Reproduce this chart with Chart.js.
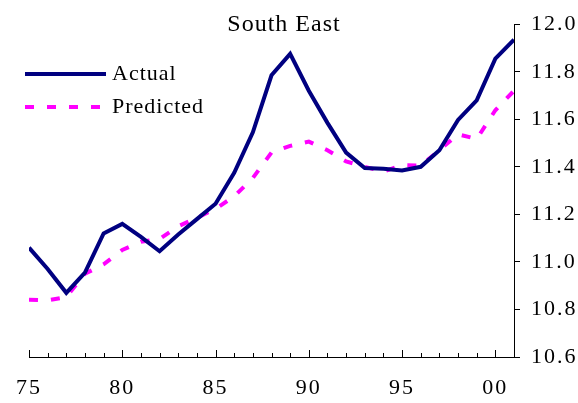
<!DOCTYPE html>
<html>
<head>
<meta charset="utf-8">
<script src="https://cdn.jsdelivr.net/npm/chart.js@4/dist/chart.umd.min.js"></script>
<style>
    html, body { margin: 0; padding: 0; background: #ffffff; }
    #wrap { width: 578px; height: 403px; }
</style>
</head>
<body>
<div id="wrap"><canvas id="chart"></canvas></div>
<script>
// Data
const years = [1975, 1976, 1977, 1978, 1979, 1980, 1981, 1982, 1983, 1984, 1985, 1986, 1987, 1988,
               1989, 1990, 1991, 1992, 1993, 1994, 1995, 1996, 1997, 1998, 1999, 2000, 2001];
const actual = [11.06, 10.97, 10.87, 10.955, 11.12, 11.16, 11.105, 11.045, 11.115, 11.18, 11.245, 11.375, 11.545, 11.785,
                11.875, 11.72, 11.585, 11.46, 11.395, 11.392, 11.385, 11.40, 11.47, 11.597, 11.68, 11.855, 11.935];
const predicted = [10.841, 10.838, 10.852, 10.95, 10.99, 11.05, 11.085, 11.096, 11.15, 11.186, 11.223, 11.276, 11.353, 11.46,
                   11.488, 11.506, 11.47, 11.423, 11.40, 11.38, 11.407, 11.405, 11.47, 11.537, 11.517, 11.638, 11.72];
const yTicks = [10.6, 10.8, 11.0, 11.2, 11.4, 11.6, 11.8, 12.0];
const title = 'South East';

const FONT = "'Liberation Serif', 'Times New Roman', serif";

/**
 * Draws the title, the in-plot legend and the inward tick marks of the x axis
 */
const decorations = {
    id: 'decorations',
    beforeDraw(chart) {
        chart.ctx.letterSpacing = '2px';
    },
    afterDraw(chart) {
        const ctx = chart.ctx;
        const xScale = chart.scales.x;
        ctx.save();

        // x axis ticks point up into the plot
        ctx.strokeStyle = '#000000';
        ctx.lineWidth = 1;
        for (let v = years[0]; v <= years[years.length - 1]; v++) {
            const px = Math.round(xScale.getPixelForValue(v)) + 0.5;
            const len = v % 5 === 0 ? 7 : 4;
            ctx.beginPath();
            ctx.moveTo(px, xScale.top);
            ctx.lineTo(px, xScale.top - len);
            ctx.stroke();
        }

        // title
        ctx.fillStyle = '#000000';
        ctx.letterSpacing = '1px';
        ctx.font = '24px ' + FONT;
        ctx.textAlign = 'center';
        ctx.textBaseline = 'alphabetic';
        ctx.fillText(title, 284, 31);

        // legend
        ctx.letterSpacing = '1px';
        ctx.font = '22px ' + FONT;
        ctx.textAlign = 'left';
        chart.data.datasets.forEach((ds, i) => {
            const y = 74 + i * 33;
            ctx.strokeStyle = ds.borderColor;
            ctx.lineWidth = ds.borderWidth;
            ctx.setLineDash(ds.borderDash || []);
            ctx.beginPath();
            ctx.moveTo(25, y);
            ctx.lineTo(106, y);
            ctx.stroke();
            ctx.setLineDash([]);
            ctx.fillStyle = '#000000';
            ctx.fillText(ds.label, 112, y + 6);
        });

        ctx.restore();
    }
};

const ctx = document.getElementById('chart').getContext('2d');
new Chart(ctx, {
    type: 'line',
    data: {
        labels: years,
        datasets: [{
            label: 'Actual',
            data: years.map((yr, i) => ({ x: yr, y: actual[i] })),
            borderColor: '#000080',
            borderWidth: 4,
            pointRadius: 0,
            tension: 0,
            fill: false
        }, {
            label: 'Predicted',
            data: years.map((yr, i) => ({ x: yr, y: predicted[i] })),
            borderColor: '#ff00ff',
            borderWidth: 4,
            borderDash: [9, 13],
            borderCapStyle: 'butt',
            pointRadius: 0,
            tension: 0,
            fill: false
        }]
    },
    options: {
        responsive: true,
        maintainAspectRatio: false,
        animation: false,
        layout: {
            padding: { left: 23, top: 22, right: 0, bottom: 0 }
        },
        plugins: {
            legend: { display: false },
            title: { display: false },
            tooltip: { enabled: false }
        },
        scales: {
            x: {
                type: 'linear',
                min: years[0],
                max: years[years.length - 1],
                afterFit: scale => { scale.height = 46; },
                afterBuildTicks: scale => {
                    scale.ticks = years.filter(v => v % 5 === 0).map(v => ({ value: v }));
                },
                ticks: {
                    autoSkip: false,
                    maxRotation: 0,
                    padding: 18,
                    color: '#000000',
                    font: { family: FONT, size: 22 },
                    callback: v => String(v % 100).padStart(2, '0')
                },
                grid: { display: false, drawTicks: false },
                border: { display: true, color: '#000000', width: 1 }
            },
            y: {
                position: 'right',
                min: yTicks[0],
                max: yTicks[yTicks.length - 1],
                afterFit: scale => { scale.width = 64; },
                afterBuildTicks: scale => {
                    scale.ticks = yTicks.map(v => ({ value: v }));
                },
                ticks: {
                    padding: 11,
                    color: '#000000',
                    font: { family: FONT, size: 22 },
                    callback: v => v.toFixed(1)
                },
                grid: {
                    drawOnChartArea: false,
                    drawTicks: true,
                    tickLength: 6,
                    color: '#000000'
                },
                border: { display: true, color: '#000000', width: 1 }
            }
        }
    },
    plugins: [decorations]
});
</script>
</body>
</html>
